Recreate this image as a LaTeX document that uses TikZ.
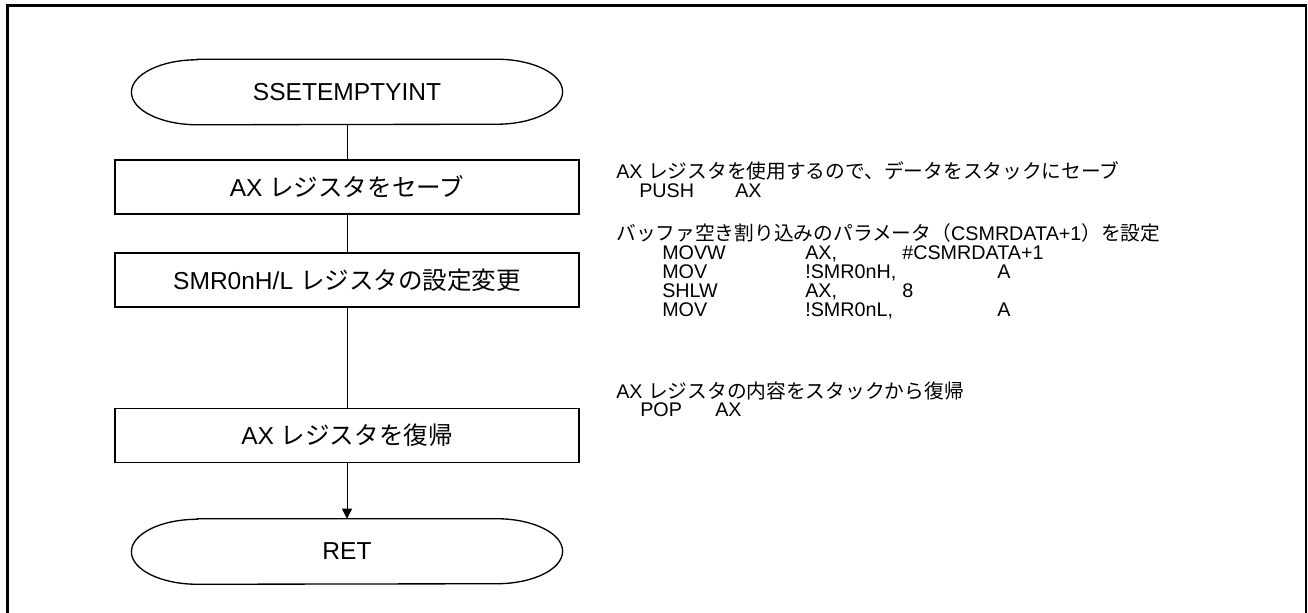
\documentclass[tikz,border=0pt]{standalone}
\usepackage{fontspec}
\setmainfont{Liberation Sans}
\newfontfamily\jp{Noto Sans CJK JP}
\usepackage{tikz}
\usetikzlibrary{positioning, arrows.meta}

\tikzset{
  procbox/.style={draw, line width=1pt, minimum width=348pt, minimum height=40.5pt,
    inner sep=0pt, font=\fontsize{18.4}{22}\selectfont},
  termbox/.style={minimum width=323pt, minimum height=48.75pt, inner sep=0pt,
    font=\fontsize{18.4}{22}\selectfont},
  note/.style={anchor=base west, inner sep=0pt, font=\fontsize{14.8}{17}\selectfont},
  flow/.style={line width=0.75pt}
}

% outline of a terminal with elliptic ends
\newcommand{\termoutline}[1]{%
  \draw[line width=1pt] ([xshift=49.5pt]#1.north west) -- ([xshift=-49.5pt]#1.north east)
    arc[start angle=90, end angle=-90, x radius=49.5pt, y radius=24.375pt]
    -- ([xshift=49.5pt]#1.south west)
    arc[start angle=270, end angle=90, x radius=49.5pt, y radius=24.375pt] -- cycle;}

\begin{document}
\begin{tikzpicture}[x=0.75pt, y=-0.75pt]
    \useasboundingbox (0,0) rectangle (1308,613);

    % Frame (open at the bottom)
    \draw[line width=1.9pt] (7.5,630) -- (7.5,5.5) -- (1306,5.5) -- (1306,630);

    % Flow chart
    \node[termbox] (start) at (347,92) {SSETEMPTYINT};
    \termoutline{start}
    \node[procbox] (save) at (347,187) {AX {\jp レジスタをセーブ}};
    \node[procbox] (smr) at (347,280) {SMR0nH/L {\jp レジスタの設定変更}};
    \node[procbox] (restore) at (347,435.5) {AX {\jp レジスタを復帰}};
    \node[termbox] (ret) at (347,551.5) {RET};
    \termoutline{ret}

    \draw[flow] (start) -- (save);
    \draw[flow] (save) -- (smr);
    \draw[flow] (smr) -- (restore);
    \draw[flow, -{Triangle[length=7.5pt, width=7.5pt]}] (restore) -- (ret);

    % Comments: save
    \node[note] (n1) at (616,178) {AX {\jp レジスタを使用するので、データをスタックにセーブ}};
    \node[note] (push) at (639,197) {PUSH};
    \node[note] (pushax) at (735,197) {AX};

    % Comments: SMR0nH/L
    \node[note] (n2) at (616,240) {{\jp バッファ空き割り込みのパラメータ（}CSMRDATA+1{\jp ）を設定}};
    \node[note] (op1) at (662,259) {MOVW};
    \node[note] (a1) at (805,259) {AX,};
    \node[note] (b1) at (902,259) {\#CSMRDATA+1};
    \node[note] (op2) at (662,278) {MOV};
    \node[note] (a2) at (805,278) {!SMR0nH,};
    \node[note] (b2) at (997,278) {A};
    \node[note] (op3) at (662,297) {SHLW};
    \node[note] (a3) at (805,297) {AX,};
    \node[note] (b3) at (902,297) {8};
    \node[note] (op4) at (662,316) {MOV};
    \node[note] (a4) at (805,316) {!SMR0nL,};
    \node[note] (b4) at (997,316) {A};

    % Comments: restore
    \node[note] (n3) at (616,398) {AX {\jp レジスタの内容をスタックから復帰}};
    \node[note] (pop) at (640,416) {POP};
    \node[note] (popax) at (715,416) {AX};

\end{tikzpicture}
\end{document}
